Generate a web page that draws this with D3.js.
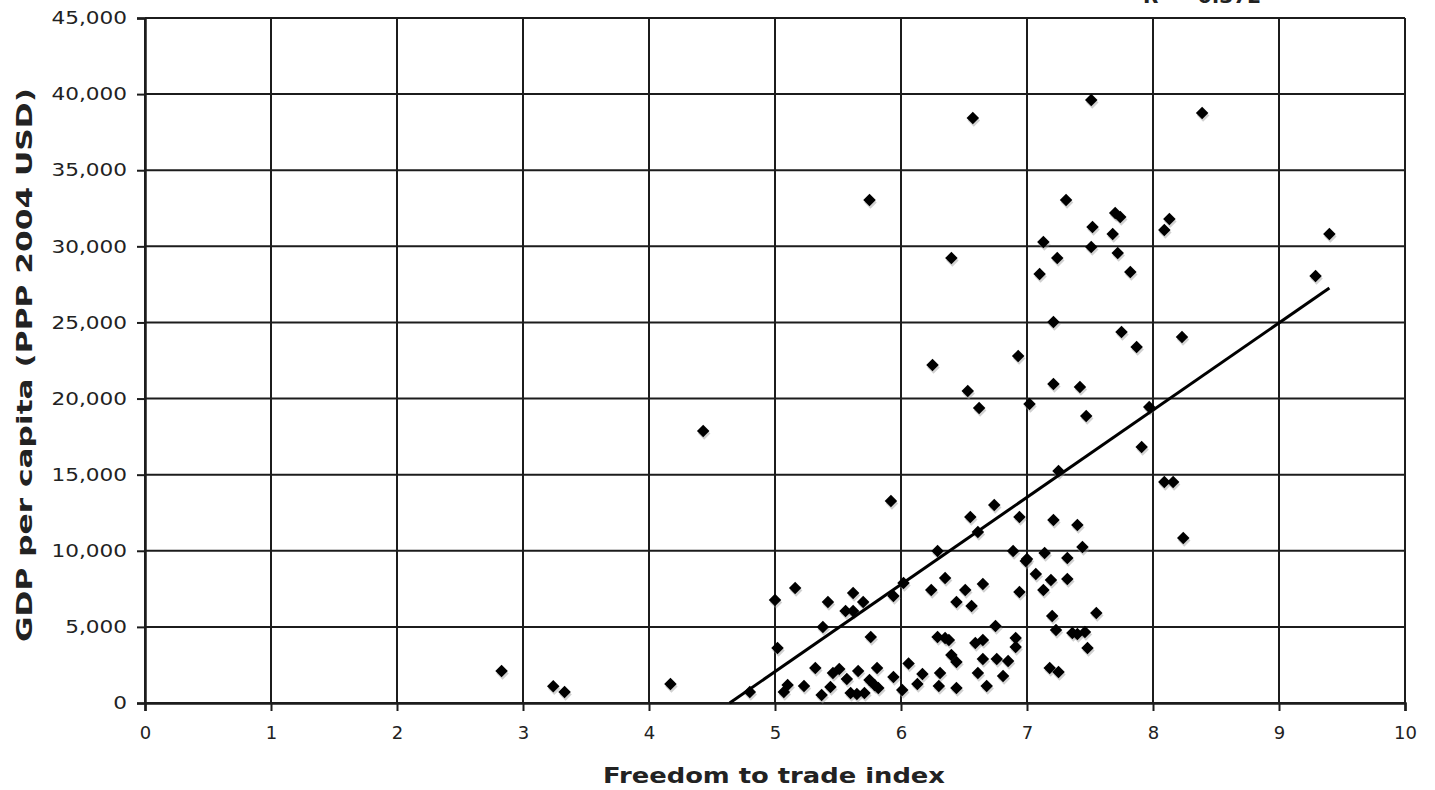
<!DOCTYPE html>
<html><head><meta charset="utf-8">
<script src="https://cdn.jsdelivr.net/npm/d3@7"></script>
<style>body{margin:0;background:#fff}svg{display:block}</style>
</head><body><div id="chart"></div>
<script>
// Freedom to trade index (x) vs GDP per capita (y)
const freedomIndex = [2.83,3.24,3.33,4.17,4.43,4.80,
5.00,5.02,5.16,5.42,5.62,5.70,5.56,5.62,5.38,5.94,6.02,5.76,5.32,5.46,5.51,5.57,5.66,5.75,5.81,5.82,5.94,6.06,5.10,5.07,5.23,5.37,5.44,5.60,5.65,5.71,5.79,6.01,
6.24,6.35,6.51,6.44,6.56,6.65,6.94,6.99,7.07,7.19,7.13,7.32,7.20,7.23,6.75,6.29,6.35,6.38,6.59,6.65,6.91,6.91,6.40,6.44,6.65,6.76,6.85,6.17,6.31,6.61,6.81,6.13,6.30,6.44,6.68,7.18,7.25,
5.92,6.55,6.74,6.94,6.61,6.29,6.89,7.00,7.14,7.32,7.21,7.40,7.25,
7.31,7.70,7.74,7.52,7.68,8.13,8.09,7.13,7.24,7.51,7.72,7.82,9.40,9.29,7.21,7.75,7.87,8.23,7.21,7.42,7.47,7.97,7.91,8.09,8.16,7.44,8.24,
6.57,7.51,8.39,5.75,7.10,6.40,6.25,6.93,6.53,6.62,7.02,
7.55,7.36,7.40,7.46,7.48];
const gdpPerCapita = [2100,1100,720,1250,17870,720,
6770,3610,7550,6630,7230,6630,6040,6040,4990,7030,7880,4340,2300,1970,2230,1580,2100,1510,2300,985,1710,2600,1180,720,1120,525,1050,660,590,660,1180,850,
7420,8210,7420,6630,6370,7820,7290,9330,8470,8080,7420,8150,5720,4800,5060,4340,4270,4140,3940,4140,4270,3680,3150,2690,2890,2890,2760,1900,1970,1970,1770,1250,1120,985,1120,2300,2040,
13270,12220,13010,12220,11230,9980,9980,9460,9850,9530,12020,11690,15240,
33040,32190,31930,31270,30810,31800,31070,30280,29230,29960,29560,28310,30810,28050,25030,24370,23390,24040,20960,20760,18850,19440,16820,14520,14520,10250,10840,
38430,39610,38760,33040,28180,29230,22200,22790,20500,19380,19640,
5910,4600,4530,4660,3610];
const xTicks = [0,1,2,3,4,5,6,7,8,9,10];
const yTicks = [0,5000,10000,15000,20000,25000,30000,35000,40000,45000];
const trendSlope = 5727, trendIntercept = -26573;
const trendXRange = [4.64, 9.40];
const xTitle = "Freedom to trade index";
const yTitle = "GDP per capita (PPP 2004 USD)";
const r2Label = "R² = 0.372";

const W = 1435, H = 790;
const m = {left:145, right:1405, top:18, bottom:703};
const svg = d3.select("#chart").append("svg").attr("width",W).attr("height",H);
const x = d3.scaleLinear().domain([0,10]).range([m.left,m.right]);
const y = d3.scaleLinear().domain([0,45000]).range([m.bottom,m.top]);
const FONT = "'DejaVu Sans', Verdana, sans-serif";

const ink = "#1c1c1c";
// grid
svg.append("g").selectAll("line").data(xTicks).join("line")
  .attr("x1",d=>x(d)).attr("x2",d=>x(d)).attr("y1",m.top).attr("y2",m.bottom)
  .attr("stroke",ink).attr("stroke-width",2);
svg.append("g").selectAll("line").data(yTicks).join("line")
  .attr("x1",m.left).attr("x2",m.right).attr("y1",d=>y(d)).attr("y2",d=>y(d))
  .attr("stroke",ink).attr("stroke-width",2);

const fmt = d3.format(",");
const xAxis = svg.append("g").attr("transform",`translate(0,${m.bottom})`)
  .call(d3.axisBottom(x).tickValues(xTicks).tickFormat(d3.format("d")).tickSize(8).tickPadding(15));
const yAxis = svg.append("g").attr("transform",`translate(${m.left},0)`)
  .call(d3.axisLeft(y).tickValues(yTicks).tickFormat(fmt).tickSize(8).tickPadding(10));
[xAxis,yAxis].forEach(a=>{
  a.select(".domain").attr("stroke",ink).attr("stroke-width",2.5);
  a.selectAll(".tick line").attr("stroke",ink).attr("stroke-width",2);
  a.selectAll(".tick text").attr("fill","#222").style("font-family",FONT).style("font-size","18px");
});
// widen the y tick labels (wide rendering in reference)
yAxis.selectAll(".tick text").each(function(){
  const w = this.getComputedTextLength();
  d3.select(this).attr("textLength", w*1.2).attr("lengthAdjust","spacingAndGlyphs");
});

// points
const pts = freedomIndex.map((v,i)=>[v,gdpPerCapita[i]]);
const diamond = d3.symbol().type(d3.symbolSquare).size(78);
svg.append("g").selectAll("path").data(pts).join("path")
  .attr("d",diamond).attr("transform",d=>`translate(${x(d[0])+1},${y(d[1])+2.5}) rotate(45)`)
  .attr("fill","#999").attr("opacity",0.45);
svg.append("g").selectAll("path").data(pts).join("path")
  .attr("d",diamond).attr("transform",d=>`translate(${x(d[0])},${y(d[1])}) rotate(45)`)
  .attr("fill","#000");

// trend line
svg.append("line")
  .attr("x1",x(trendXRange[0])).attr("y1",y(trendSlope*trendXRange[0]+trendIntercept))
  .attr("x2",x(trendXRange[1])).attr("y2",y(trendSlope*trendXRange[1]+trendIntercept))
  .attr("stroke","#000").attr("stroke-width",3);

// titles
svg.append("text").attr("x",603).attr("y",783)
  .attr("textLength",342).attr("lengthAdjust","spacingAndGlyphs")
  .style("font-family",FONT).style("font-weight","bold").style("font-size","21px")
  .attr("fill","#222").text(xTitle);
svg.append("text").attr("transform","translate(32,642) rotate(-90)")
  .attr("textLength",554).attr("lengthAdjust","spacingAndGlyphs")
  .style("font-family",FONT).style("font-weight","bold").style("font-size","22px")
  .attr("fill","#222").text(yTitle);
svg.append("text").attr("x",1143).attr("y",3)
  .style("font-family",FONT).style("font-weight","bold").style("font-size","20px")
  .attr("fill","#222").text(r2Label);
</script></body></html>
